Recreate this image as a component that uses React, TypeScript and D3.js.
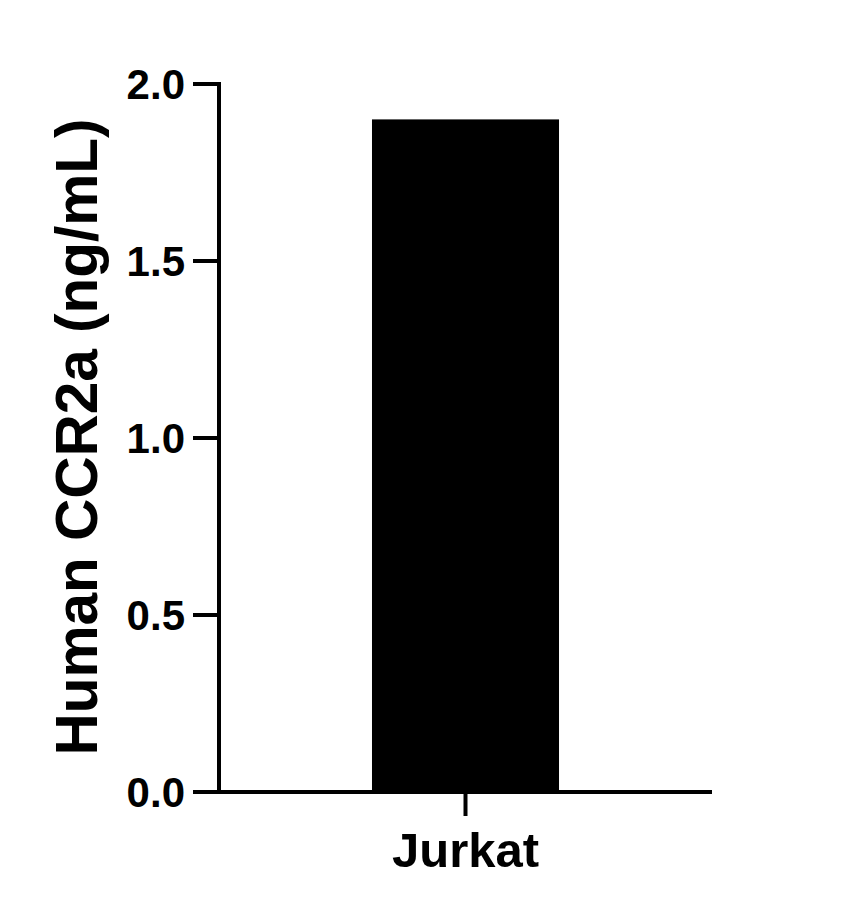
import React, { useEffect, useRef } from 'react';
import * as d3 from 'd3';

const categories = ['Jurkat'];
const values = [1.9];
const yTicks = [0, 0.5, 1.0, 1.5, 2.0];
const yLabel = 'Human CCR2a (ng/mL)';

const W = 862;
const H = 919;

export default function App() {
  const svgRef = useRef<SVGSVGElement>(null);

  useEffect(() => {
    if (!svgRef.current) return;
    const svg = d3.select(svgRef.current);
    svg.selectAll('*').remove();

    const font = '"Liberation Sans", Arial, sans-serif';
    const left = 219, right = 712, top = 84, bottom = 792;

    const y = d3.scaleLinear().domain([0, 2]).range([bottom, top]);
    // single category band, padded so the bar is ~187px wide
    const x = d3.scaleBand<string>().domain(categories).range([left, right]).paddingInner(0).paddingOuter(0.818);

    // bars
    svg.selectAll('rect.bar')
      .data(values)
      .enter()
      .append('rect')
      .attr('class', 'bar')
      .attr('x', (d, i) => x(categories[i])!)
      .attr('width', x.bandwidth())
      .attr('y', d => y(d))
      .attr('height', d => bottom - y(d))
      .attr('fill', '#000');

    // y axis
    const yAxis = svg.append('g').attr('transform', `translate(${left},0)`);
    yAxis.append('line')
      .attr('x1', 0).attr('x2', 0)
      .attr('y1', top - 2).attr('y2', bottom + 2)
      .attr('stroke', '#000').attr('stroke-width', 4);
    yTicks.forEach(t => {
      yAxis.append('line')
        .attr('x1', -26).attr('x2', 0)
        .attr('y1', y(t)).attr('y2', y(t))
        .attr('stroke', '#000').attr('stroke-width', 4);
      yAxis.append('text')
        .attr('x', -34)
        .attr('y', y(t))
        .attr('dy', '0.36em')
        .attr('text-anchor', 'end')
        .style('font-family', font)
        .style('font-weight', 'bold')
        .style('font-size', '42px')
        .text(t.toFixed(1));
    });

    // x axis
    const xAxis = svg.append('g').attr('transform', `translate(0,${bottom})`);
    xAxis.append('line')
      .attr('x1', left - 2).attr('x2', right)
      .attr('y1', 0).attr('y2', 0)
      .attr('stroke', '#000').attr('stroke-width', 4);
    categories.forEach(c => {
      const cx = x(c)! + x.bandwidth() / 2;
      xAxis.append('line')
        .attr('x1', cx).attr('x2', cx)
        .attr('y1', 0).attr('y2', 24)
        .attr('stroke', '#000').attr('stroke-width', 4);
      xAxis.append('text')
        .attr('x', cx)
        .attr('y', 75)
        .attr('text-anchor', 'middle')
        .style('font-family', font)
        .style('font-weight', 'bold')
        .style('font-size', '49px')
        .text(c);
    });

    // y label
    svg.append('text')
      .attr('transform', `translate(97,${(122 + 752) / 2}) rotate(-90)`)
      .attr('text-anchor', 'middle')
      .style('font-family', font)
      .style('font-weight', 'bold')
      .style('font-size', '58.5px')
      .text(yLabel);
  }, []);

  return (
    <svg ref={svgRef} width={W} height={H} style={{ display: 'block', margin: '-8px', background: '#fff' }} />
  );
}
